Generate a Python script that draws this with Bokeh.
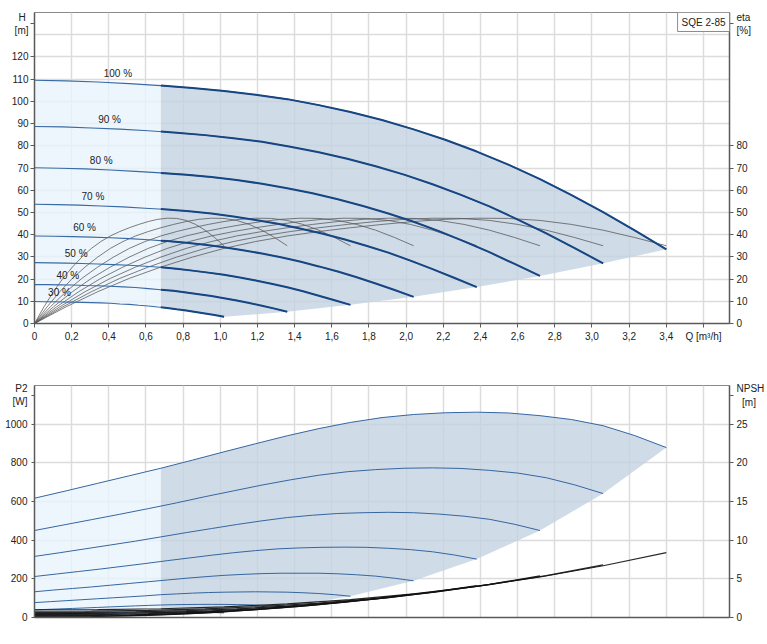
import numpy as np
from bokeh.plotting import figure
from bokeh.models import Range1d, LinearAxis, FixedTicker, Label, CustomJSTickFormatter
from bokeh.layouts import column
from bokeh.embed import file_html
from bokeh.resources import INLINE

# ---------------- data ----------------
pump_name = "SQE 2-85"
speed_labels = ["100 %", "90 %", "80 %", "70 %", "60 %", "50 %", "40 %", "30 %"]
q_end = [3.40, 3.06, 2.72, 2.38, 2.04, 1.70, 1.36, 1.02]          # end flow of each speed curve
# reading points along each curve, as a fraction of that curve's end flow
q_frac = [0.0, 0.05, 0.1, 0.15, 0.2, 0.25, 0.3, 0.35, 0.4, 0.45, 0.5,
          0.55, 0.6, 0.65, 0.7, 0.75, 0.8, 0.85, 0.9, 0.95, 1.0]
npsh_frac = [0.0, 0.1, 0.2, 0.3, 0.4, 0.5, 0.6, 0.7, 0.8, 0.9, 1.0]
q_split = 0.68                                                    # start of recommended range

head = [
    [109.5, 109.2, 108.7, 108.0, 107.1, 106.0, 104.7, 103.0, 101.0, 98.3, 95.2,
     91.6, 87.4, 82.7, 77.4, 71.5, 65.0, 57.8, 50.1, 41.9, 33.4],
    [88.7, 88.5, 88.0, 87.5, 86.8, 85.9, 84.8, 83.4, 81.8, 79.6, 77.1,
     74.2, 70.8, 67.0, 62.7, 57.9, 52.7, 46.8, 40.6, 33.9, 27.1],
    [70.1, 69.9, 69.6, 69.1, 68.5, 67.8, 67.0, 65.9, 64.6, 62.9, 60.9,
     58.6, 55.9, 52.9, 49.5, 45.8, 41.6, 37.0, 32.1, 26.8, 21.4],
    [53.7, 53.5, 53.3, 52.9, 52.5, 51.9, 51.3, 50.5, 49.5, 48.2, 46.6,
     44.9, 42.8, 40.5, 37.9, 35.0, 31.9, 28.3, 24.5, 20.5, 16.4],
    [39.4, 39.3, 39.1, 38.9, 38.6, 38.2, 37.7, 37.1, 36.4, 35.4, 34.3,
     33.0, 31.5, 29.8, 27.9, 25.7, 23.4, 20.8, 18.0, 15.1, 12.0],
    [27.4, 27.3, 27.2, 27.0, 26.8, 26.5, 26.2, 25.8, 25.3, 24.6, 23.8,
     22.9, 21.9, 20.7, 19.4, 17.9, 16.3, 14.5, 12.5, 10.5, 8.4],
    [17.5, 17.5, 17.4, 17.3, 17.1, 17.0, 16.8, 16.5, 16.2, 15.7, 15.2,
     14.7, 14.0, 13.2, 12.4, 11.4, 10.4, 9.2, 8.0, 6.7, 5.3],
    [9.9, 9.8, 9.8, 9.7, 9.6, 9.5, 9.4, 9.3, 9.1, 8.8, 8.6,
     8.2, 7.9, 7.4, 7.0, 6.4, 5.9, 5.2, 4.5, 3.8, 3.0],
]
head_at_split = [107.1, 86.4, 67.8, 51.5, 37.3, 25.3, 15.2, 7.3]

# efficiency read the same for every speed along its own flow range
eta_curve = [0.0, 7.5, 14.3, 20.3, 25.4, 29.9, 33.8, 36.9, 39.4, 41.4, 43.1,
             44.6, 45.9, 46.9, 47.4, 47.3, 46.4, 44.6, 42.0, 38.7, 35.0]

p2 = [
    [617, 655, 694, 733, 772, 814, 857, 899, 940, 977, 1009,
     1034, 1050, 1059, 1062, 1058, 1044, 1024, 992, 941, 879],
    [450, 478, 506, 534, 563, 593, 625, 655, 685, 712, 736,
     754, 765, 772, 774, 771, 761, 747, 723, 686, 641],
    [316, 335, 355, 375, 395, 417, 439, 460, 481, 500, 517,
     529, 538, 542, 544, 542, 535, 524, 508, 482, 450],
    [212, 225, 238, 251, 265, 279, 294, 308, 322, 335, 346,
     355, 360, 363, 364, 363, 358, 351, 340, 323, 302],
    [133, 142, 150, 158, 167, 176, 185, 194, 203, 211, 218,
     223, 227, 229, 229, 229, 226, 221, 214, 203, 190],
    [77, 82, 87, 92, 97, 102, 107, 112, 118, 122, 126,
     129, 131, 132, 133, 132, 131, 128, 124, 118, 110],
    [39.5, 41.9, 44.4, 46.9, 49.4, 52.1, 54.8, 57.5, 60.2, 62.5, 64.6,
     66.2, 67.2, 67.8, 68.0, 67.7, 66.8, 65.5, 63.5, 60.2, 56.3],
    [16.7, 17.7, 18.7, 19.8, 20.8, 22.0, 23.1, 24.3, 25.4, 26.4, 27.2,
     27.9, 28.4, 28.6, 28.7, 28.6, 28.2, 27.6, 26.8, 25.4, 23.7],
]
p2_at_split = [772, 576, 417, 290, 191, 118, 64.6, 28.5]

npsh = [
    [1.00, 1.02, 1.13, 1.37, 1.75, 2.31, 3.06, 4.03, 5.24, 6.69, 8.40],
    [0.81, 0.83, 0.92, 1.11, 1.42, 1.87, 2.48, 3.27, 4.24, 5.42, 6.80],
    [0.64, 0.65, 0.72, 0.88, 1.12, 1.48, 1.96, 2.58, 3.35, 4.28, 5.38],
    [0.49, 0.50, 0.55, 0.67, 0.86, 1.13, 1.50, 1.97, 2.57, 3.28, 4.12],
    [0.36, 0.37, 0.41, 0.49, 0.63, 0.83, 1.10, 1.45, 1.89, 2.41, 3.02],
    [0.25, 0.26, 0.28, 0.34, 0.44, 0.58, 0.77, 1.01, 1.31, 1.67, 2.10],
    [0.16, 0.16, 0.18, 0.22, 0.28, 0.37, 0.49, 0.64, 0.84, 1.07, 1.34],
    [0.09, 0.09, 0.10, 0.12, 0.16, 0.21, 0.28, 0.36, 0.47, 0.60, 0.76],
]

x_ticks = [0, 0.2, 0.4, 0.6, 0.8, 1.0, 1.2, 1.4, 1.6, 1.8, 2.0, 2.2, 2.4, 2.6, 2.8, 3.0, 3.2, 3.4, 3.6]
x_tick_labels = ["0", "0,2", "0,4", "0,6", "0,8", "1,0", "1,2", "1,4", "1,6", "1,8", "2,0",
                 "2,2", "2,4", "2,6", "2,8", "3,0", "3,2", "3,4", "Q [m\u00b3/h]"]
h_ticks = [0, 10, 20, 30, 40, 50, 60, 70, 80, 90, 100, 110, 120]
h_grid = [0, 10, 20, 30, 40, 50, 60, 70, 80, 90, 100, 110, 120, 130, 140]
eta_ticks = [0, 10, 20, 30, 40, 50, 60, 70, 80]
p2_ticks = [0, 200, 400, 600, 800, 1000]
p2_grid = [0, 200, 400, 600, 800, 1000, 1200]
npsh_ticks = [0, 5, 10, 15, 20, 25]

# axis titles (set at the top end of each axis, as in the reference)
h_title, h_title_at = "H\u00a0\n[m]", 135
eta_title, eta_title_at = "eta\n[%]", 135
p2_title, p2_title_at = "P2\n[W]", 1150
npsh_title, npsh_title_at = "NPSH\n\u00a0\u00a0[m]", 28.7

# ---------------- styling ----------------
FONT = "Liberation Sans"
TXT = "#222222"
AX = "#5a5a5a"
GRID = "#dcdcdc"
LIGHT_FILL = "#eaf4fc"
DARK_FILL = "#c3d2e1"
label_frac = 0.132


def qs(i, frac=q_frac):
    return [q_end[i] * f for f in frac]


def left_part(q, v, qsp, vsp):
    xs = [a for a in q if a < qsp - 1e-9]
    ys = [b for a, b in zip(q, v) if a < qsp - 1e-9]
    return xs + [qsp], ys + [vsp]


def right_part(q, v, qsp, vsp):
    xs = [a for a in q if a > qsp + 1e-9]
    ys = [b for a, b in zip(q, v) if a > qsp + 1e-9]
    return [qsp] + xs, [vsp] + ys


def style_axis(ax, standoff=2, tick_out=4):
    ax.axis_line_color = AX
    ax.axis_line_width = 1.5
    ax.major_tick_line_color = AX
    ax.major_tick_out = tick_out
    ax.major_tick_in = 0
    ax.minor_tick_line_color = None
    ax.major_label_text_font = FONT
    ax.major_label_text_font_size = "10px"
    ax.major_label_text_color = TXT
    ax.major_label_standoff = standoff


x_fmt = CustomJSTickFormatter(args=dict(tick_values=x_ticks, tick_names=x_tick_labels), code="""
let k = 0, d = 1e9;
for (let j = 0; j < tick_values.length; j++) {
  const e = Math.abs(tick_values[j] - tick);
  if (e < d) { d = e; k = j; }
}
return tick_names[k];
""")

# ---------------- top chart: H and eta ----------------
p1 = figure(frame_width=695, frame_height=311, x_range=Range1d(0, 3.74), y_range=Range1d(0, 140),
            output_backend="svg", toolbar_location=None, min_border_left=34, min_border_right=37,
            min_border_top=12, min_border_bottom=30, background_fill_color="white",
            border_fill_color="white")
p1.outline_line_color = "#8a8a8a"
p1.xgrid.ticker = FixedTicker(ticks=x_ticks)
p1.ygrid.ticker = FixedTicker(ticks=h_grid)
p1.grid.grid_line_color = GRID
p1.grid.grid_line_width = 1.5

q100, q30 = qs(0), qs(7)
lx, ly = left_part(q100, head[0], q_split, head_at_split[0])
lx30, ly30 = left_part(q30, head[7], q_split, head_at_split[7])
p1.patch(lx + lx30[::-1], ly + ly30[::-1], fill_color=LIGHT_FILL, fill_alpha=0.8, line_color=None)
rx, ry = right_part(q100, head[0], q_split, head_at_split[0])
ex = [q_end[i] for i in range(1, 8)]
ey = [head[i][-1] for i in range(1, 8)]
rx30, ry30 = right_part(q30, head[7], q_split, head_at_split[7])
p1.patch(rx + ex + rx30[::-1], ry + ey + ry30[::-1], fill_color=DARK_FILL, fill_alpha=0.8, line_color=None)

for i in range(8):
    p1.line(qs(i), eta_curve, line_color="#555555", line_width=0.9, line_alpha=0.85)

for i in range(8):
    q = qs(i)
    p1.line(q, head[i], line_color="#3a6aa3", line_width=1.1)
    rx, ry = right_part(q, head[i], q_split, head_at_split[i])
    p1.line(rx, ry, line_color="#174682", line_width=2)
    ql = q_end[i] * label_frac
    hl = float(np.interp(ql, q, head[i]))
    p1.add_layout(Label(x=ql, y=hl, y_offset=4, text=speed_labels[i], text_align="center",
                        text_baseline="bottom", text_font=FONT, text_font_size="10px",
                        text_color=TXT))

xa = p1.xaxis[0]
xa.ticker = FixedTicker(ticks=x_ticks)
xa.formatter = x_fmt
style_axis(xa, standoff=3)
ya = p1.yaxis[0]
ya.ticker = FixedTicker(ticks=h_ticks + [h_title_at])
ya.major_label_overrides = {h_title_at: h_title}
style_axis(ya)
eta_axis = LinearAxis(ticker=FixedTicker(ticks=eta_ticks + [eta_title_at]))
eta_axis.major_label_overrides = {eta_title_at: eta_title}
style_axis(eta_axis, standoff=3)
p1.add_layout(eta_axis, "right")

p1.add_layout(Label(x=3.74, y=140, text=pump_name, text_align="right", text_baseline="top",
                    text_font=FONT, text_font_size="10px", text_color=TXT, padding=4,
                    background_fill_color="white", border_line_color="#8c8c8c"))

# ---------------- bottom chart: P2 and NPSH ----------------
pb = figure(frame_width=695, frame_height=232, x_range=p1.x_range, y_range=Range1d(0, 1200),
            output_backend="svg", toolbar_location=None, min_border_left=34, min_border_right=37,
            min_border_top=32, min_border_bottom=20, background_fill_color="white",
            border_fill_color="white")
pb.extra_y_ranges = {"npsh": Range1d(0, 30)}
pb.outline_line_color = "#8a8a8a"
pb.xgrid.ticker = FixedTicker(ticks=x_ticks)
pb.ygrid.ticker = FixedTicker(ticks=p2_grid)
pb.grid.grid_line_color = GRID
pb.grid.grid_line_width = 1.5

lx, ly = left_part(q100, p2[0], q_split, p2_at_split[0])
lx30, ly30 = left_part(q30, p2[7], q_split, p2_at_split[7])
pb.patch(lx + lx30[::-1], ly + ly30[::-1], fill_color=LIGHT_FILL, fill_alpha=0.8, line_color=None)
rx, ry = right_part(q100, p2[0], q_split, p2_at_split[0])
ey = [p2[i][-1] for i in range(1, 8)]
rx30, ry30 = right_part(q30, p2[7], q_split, p2_at_split[7])
pb.patch(rx + ex + rx30[::-1], ry + ey + ry30[::-1], fill_color=DARK_FILL, fill_alpha=0.8, line_color=None)

for i in range(8):
    pb.line(qs(i), p2[i], line_color="#3566a0", line_width=1.0)
for i in range(8):
    pb.line(qs(i, npsh_frac), npsh[i], line_color="#111111", line_width=1.2, line_alpha=0.9,
            y_range_name="npsh")

xb = pb.xaxis[0]
xb.ticker = FixedTicker(ticks=[])
style_axis(xb)
yb = pb.yaxis[0]
yb.ticker = FixedTicker(ticks=p2_ticks + [p2_title_at])
yb.major_label_overrides = {p2_title_at: p2_title}
style_axis(yb, standoff=4, tick_out=3)
npsh_axis = LinearAxis(y_range_name="npsh", ticker=FixedTicker(ticks=npsh_ticks + [npsh_title_at]))
npsh_axis.major_label_overrides = {npsh_title_at: npsh_title}
style_axis(npsh_axis, standoff=3)
pb.add_layout(npsh_axis, "right")

layout = column(p1, pb)
open("out.html", "w").write(file_html(layout, INLINE))
